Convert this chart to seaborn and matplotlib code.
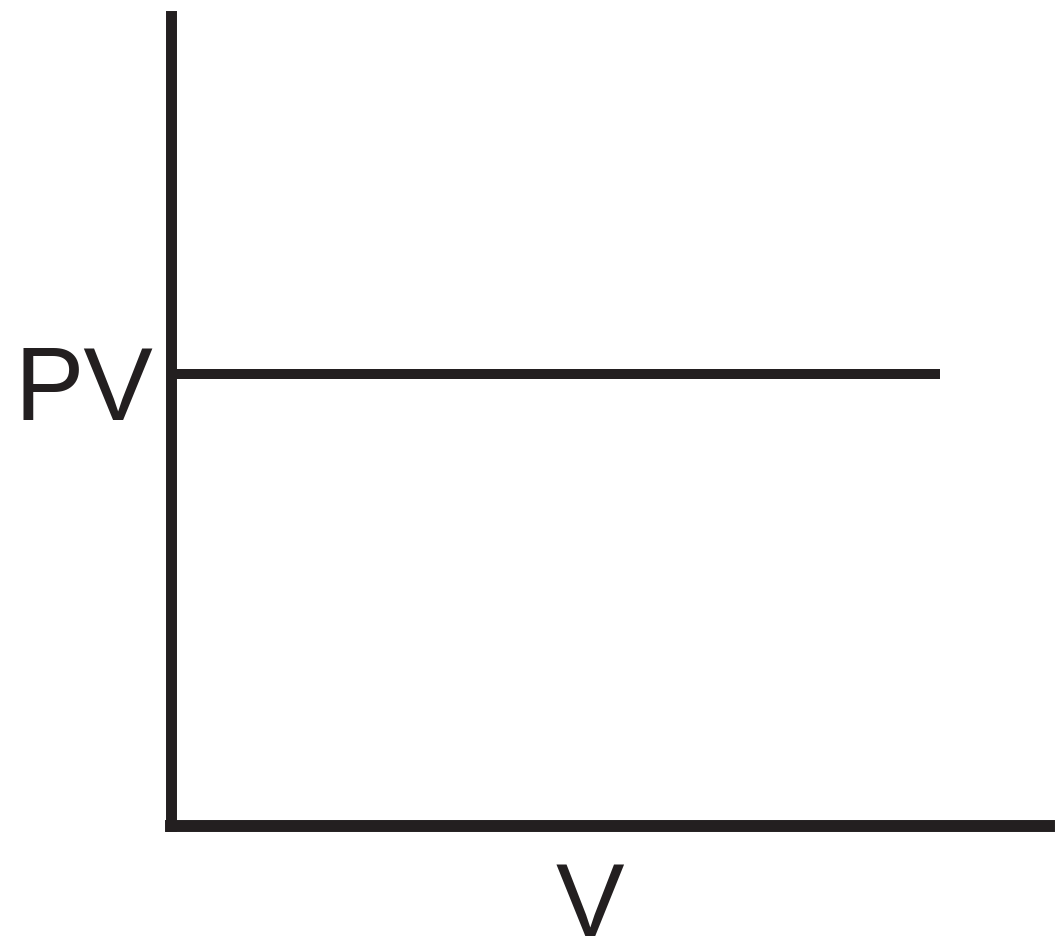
import matplotlib
matplotlib.use("Agg")
import matplotlib.pyplot as plt
import seaborn as sns
import pandas as pd

# Data: PV is constant as V varies (Boyle's law)
volume = [0.0, 0.876]
pv_values = [0.558, 0.558]
x_label = "V"
y_label = "PV"

sns.set_style("white")
plt.rcParams['font.family'] = ['Liberation Sans', 'DejaVu Sans']

ink = "#231f20"
W, H = 1060, 943
fig = plt.figure(figsize=(W / 100, H / 100), dpi=100)
ax = fig.add_axes([170.5 / W, (H - 826) / H, (1049 - 170.5) / W, (826 - 16) / H])

df = pd.DataFrame({"V": volume, "PV": pv_values})
sns.lineplot(data=df, x="V", y="PV", ax=ax, color=ink, linewidth=7.2,
             solid_capstyle="butt")

ax.set_xlim(0, 1)
ax.set_ylim(0, 1)
ax.set_xticks([])
ax.set_yticks([])
ax.set_xlabel("")
ax.set_ylabel("")

for side in ["top", "right"]:
    ax.spines[side].set_visible(False)
ax.spines["left"].set_linewidth(7.9)
ax.spines["bottom"].set_linewidth(8.6)
ax.spines["left"].set_color(ink)
ax.spines["bottom"].set_color(ink)

fig.text(153 / W, 1 - 420 / H, y_label, ha="right", va="baseline",
         fontsize=75, color=ink)
fig.text(590 / W, 1 - 936 / H, x_label, ha="center", va="baseline",
         fontsize=74, color=ink)

fig.savefig("out.png", dpi=100, facecolor="white")
